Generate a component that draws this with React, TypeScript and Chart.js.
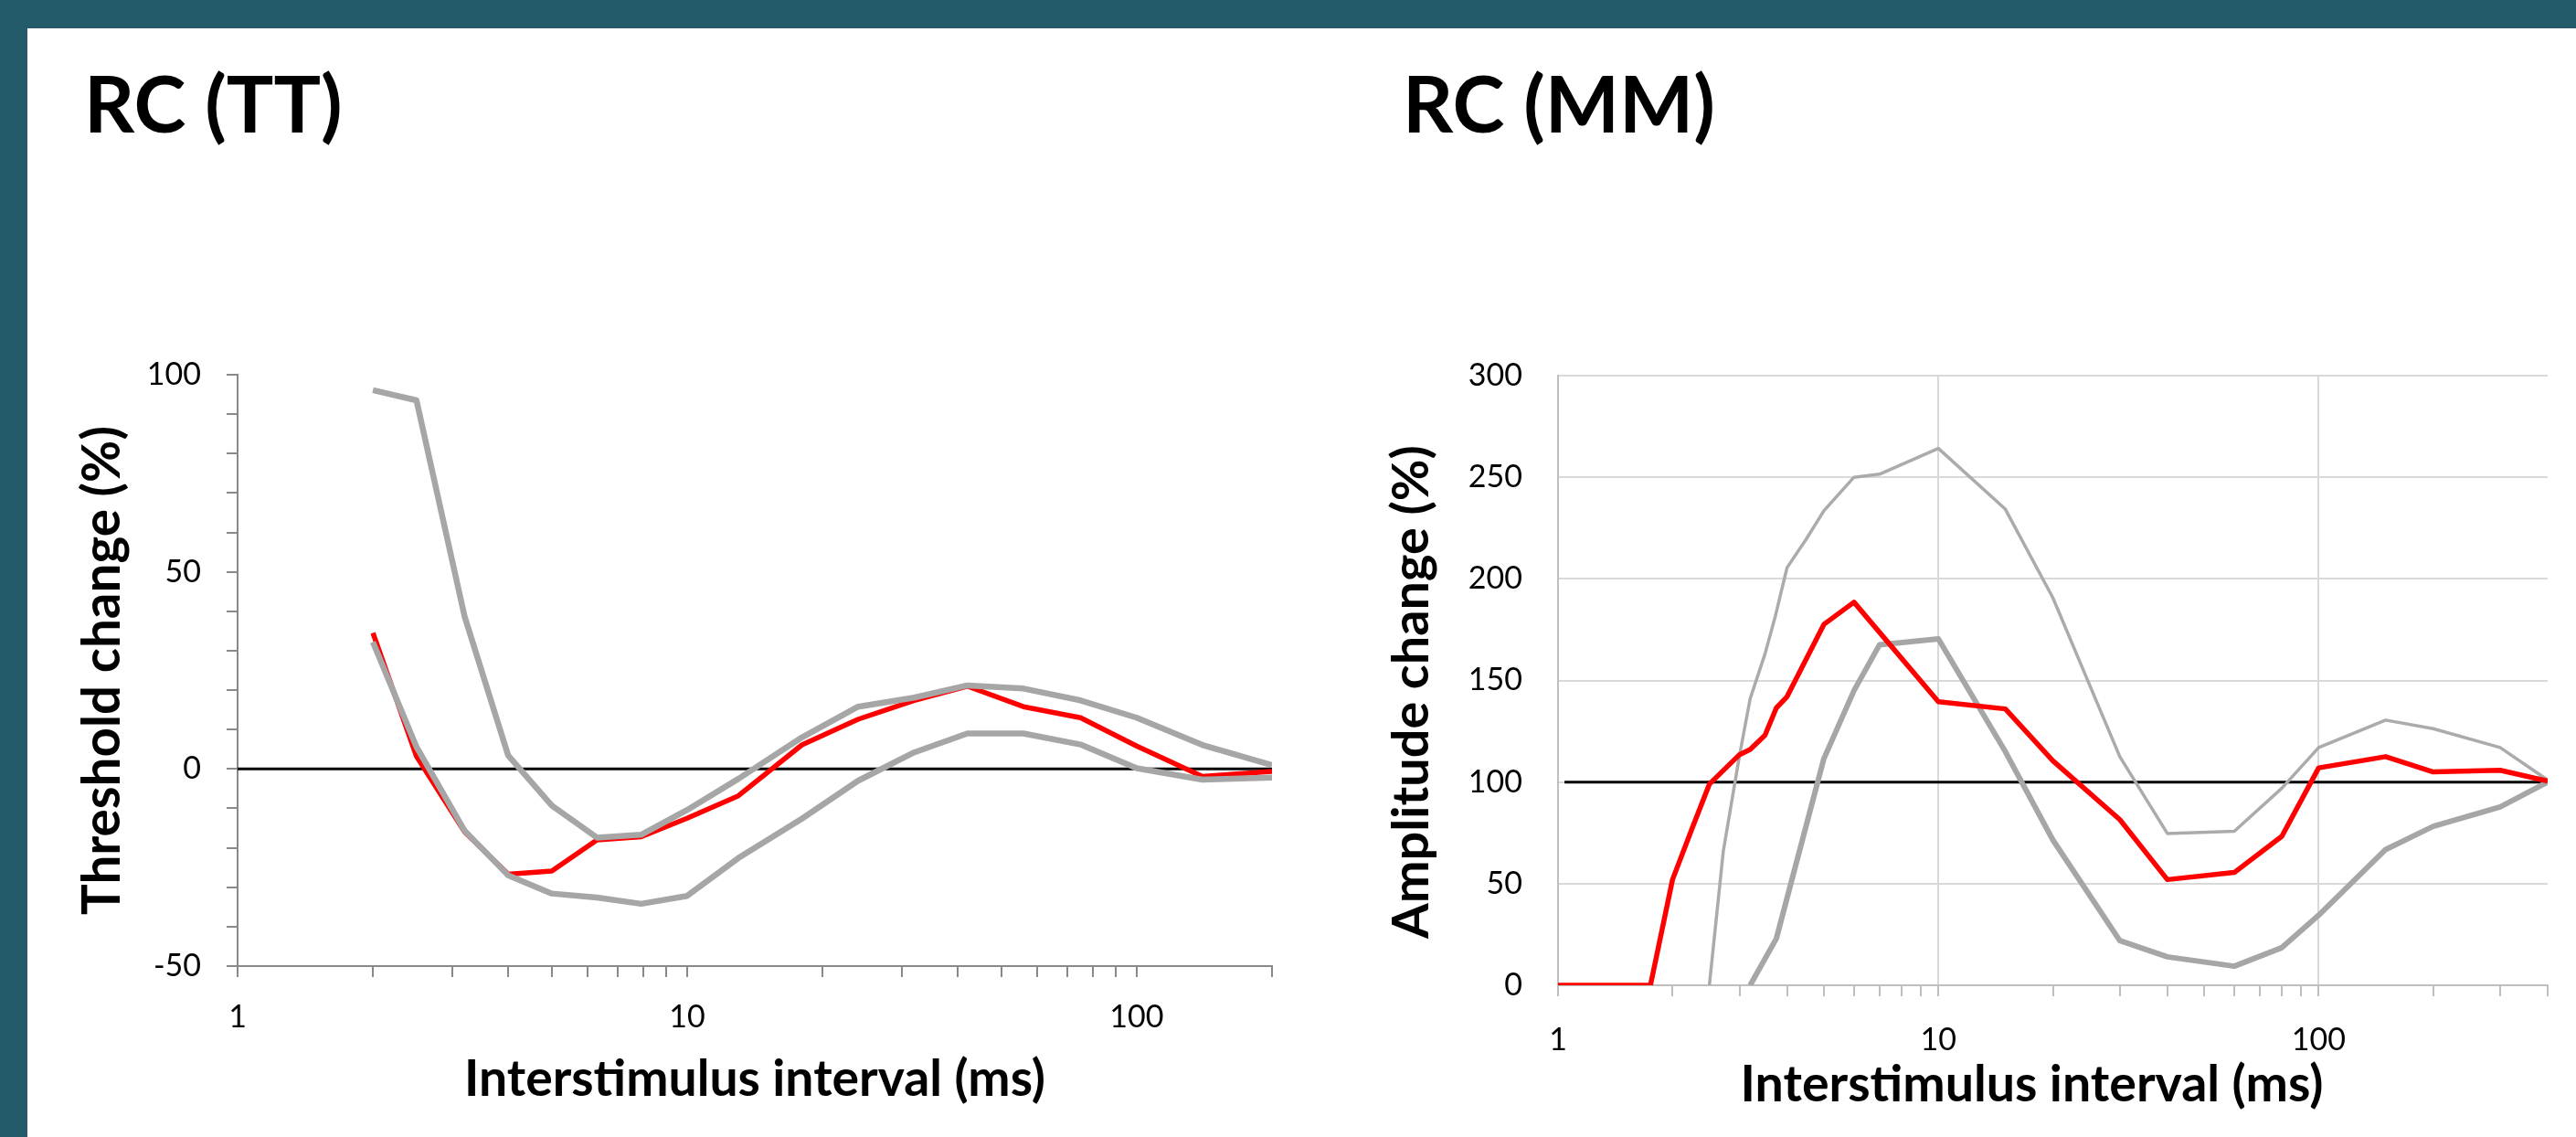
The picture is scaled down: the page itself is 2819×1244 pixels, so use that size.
import React, { useEffect, useRef } from 'react';
import Chart from 'chart.js/auto';

// ---------------- data ----------------
// RC (TT): threshold recovery cycle
const TT_X = [2, 2.5, 3.2, 4, 5, 6.3, 7.9, 10, 13, 18, 24, 32, 42, 56, 75, 100, 140, 200];
const TT_MEAN = [34.5, 3.2, -16, -26.7, -25.9, -18, -17.2, -12.5, -6.8, 6.1, 12.6, 17.4, 21, 15.8, 13, 5.8, -1.9, -0.6];
const TT_UPPER = [96.1, 93.5, 38.6, 3.4, -9.3, -17.4, -16.7, -10.4, -2.5, 8, 15.8, 18.1, 21.2, 20.4, 17.4, 13, 6.1, 1];
const TT_LOWER = [32.2, 5.6, -15.7, -27, -31.6, -32.6, -34.2, -32.2, -22.6, -12.6, -3, 4.2, 9, 9, 6.2, 0.2, -2.7, -2.2];
const TT_REF_X = [1, 200];
const TT_REF_Y = [0, 0];

// RC (MM): amplitude recovery cycle
const MM_X_MEAN = [1, 1.75, 2, 2.25, 2.5, 3, 3.2, 3.5, 3.75, 4, 5, 6, 10, 15, 20, 30, 40, 60, 80, 100, 150, 200, 300, 400];
const MM_MEAN = [0, 0, 52, 77, 99, 113.5, 116, 123, 136.5, 142, 177.6, 188.5, 139.5, 136, 110.5, 81.5, 52, 55.5, 73.3, 107, 112.5, 105, 105.8, 100.5];
const MM_X_UPPER = [2.5, 2.72, 3, 3.2, 3.5, 3.72, 4, 4.5, 5, 6, 7, 10, 15, 20, 30, 40, 60, 80, 100, 150, 200, 300, 400];
const MM_UPPER = [0, 66, 113, 141, 163, 181, 205.5, 219.7, 233.5, 250, 251.5, 264.2, 234.3, 190.7, 112.5, 74.7, 75.8, 97, 117, 130.5, 126.3, 117, 101];
const MM_X_LOWER = [3.2, 3.75, 5, 6, 7, 10, 15, 20, 30, 40, 60, 80, 100, 150, 200, 300, 400];
const MM_LOWER = [0, 23, 111.5, 145, 167.5, 170.5, 115, 71.5, 22, 14, 9.4, 18.5, 34.5, 66.8, 78.2, 87.8, 100];
const MM_REF_X = [1.04, 400];
const MM_REF_Y = [100, 100];

// ticks / labels
const X_TICK_LABELS = [1, 10, 100];
const TT_Y_TICK_LABELS = [-50, 0, 50, 100];
const MM_Y_TICK_LABELS = [0, 50, 100, 150, 200, 250, 300];
const MM_X_GRID = [10, 100];

const TITLE_TT = 'RC (TT)';
const TITLE_MM = 'RC (MM)';
const X_TITLE = 'Interstimulus interval (ms)';
const Y_TITLE_TT = 'Threshold change (%)';
const Y_TITLE_MM = 'Amplitude change (%)';

// ---------------- styles ----------------
const FONT = 'Lato, "Open Sans", sans-serif';
const TEAL = '#245B6A';
const RED = '#FF0000';
const GREY = '#A6A6A6';
const GREY_THIN = '#ABABAB';
const AXIS_L = '#898989';
const AXIS_R = '#BFBFBF';
const GRID_R = '#D9D9D9';

function pts(xs: number[], ys: number[]) {
  return xs.map((x, i) => ({ x, y: ys[i] }));
}

function logTicks(min: number, max: number) {
  const out: number[] = [];
  for (let d = 1; d <= max; d *= 10) {
    for (let m = 1; m < 10; m++) {
      const v = m * d;
      if (v >= min && v <= max) out.push(v);
    }
  }
  return out;
}

function metrics(text: string, weight: string, size: number) {
  const ctx = document.createElement('canvas').getContext('2d')!;
  ctx.font = `${weight} ${size}px ${FONT}`;
  const m = ctx.measureText(text);
  const A = (m as any).fontBoundingBoxAscent ?? size * 0.9;
  const D = (m as any).fontBoundingBoxDescent ?? size * 0.2;
  return { width: m.width, A, D };
}

function fitSize(text: string, weight: string, target: number) {
  return (100 * target) / metrics(text, weight, 100).width;
}

function lineDs(data: { x: number; y: number }[], color: string, width: number, order: number) {
  return {
    data,
    borderColor: color,
    backgroundColor: color,
    borderWidth: width,
    pointRadius: 0,
    pointHoverRadius: 0,
    fill: false,
    tension: 0,
    borderJoinStyle: 'round' as const,
    order,
  };
}

const TITLE_SIZE = 86;

function titleTop(text: string, baseline: number) {
  const mt = metrics(text, 'bold', TITLE_SIZE);
  const half = (TITLE_SIZE - (mt.A + mt.D)) / 2;
  return baseline - half - mt.A;
}

export default function App() {
  const leftRef = useRef<HTMLCanvasElement>(null);
  const rightRef = useRef<HTMLCanvasElement>(null);
  const [tops, setTops] = React.useState<{ tt: number; mm: number } | null>(null);

  useEffect(() => {
    setTops({ tt: titleTop(TITLE_TT, 145), mm: titleTop(TITLE_MM, 145) });
  }, []);

  useEffect(() => {
    const tickFont = { family: FONT, size: 34, weight: 'normal' as const };

    // axis-title sizes fitted to the reference lengths
    const sxL = fitSize(X_TITLE, 'bold', 636);
    const sxR = fitSize(X_TITLE, 'bold', 638);
    const syL = fitSize(Y_TITLE_TT, 'bold', 535);
    const syR = fitSize(Y_TITLE_MM, 'bold', 540);
    const mid = (s: number, t: string) => {
      const m = metrics(t, 'bold', s);
      return (m.A - m.D) / 2;
    };
    // canvases: left at x=40, right at x=1450, both y 380..1230
    const padXL = Math.max(0, 1230 - 0.6 * sxL - (1203 - mid(sxL, X_TITLE)));
    const padYL = Math.max(0, 135 - mid(syL, Y_TITLE_TT) - 40 - 0.6 * syL);

    const common = {
      responsive: false,
      animation: false as const,
      devicePixelRatio: 1,
      events: [] as any[],
      plugins: { legend: { display: false }, tooltip: { enabled: false }, title: { display: false } },
    };

    const fixY = (w: number) => (s: any) => {
      s.width = w;
      s.paddingTop = 0;
      s.paddingBottom = 0;
    };
    const fixX = (h: number) => (s: any) => {
      s.height = h;
      s.paddingLeft = 0;
      s.paddingRight = 0;
    };

    const left = new Chart(leftRef.current!, {
      type: 'line',
      data: {
        datasets: [
          lineDs(pts(TT_REF_X, TT_REF_Y), '#000000', 3, 4),
          lineDs(pts(TT_X, TT_MEAN), RED, 5.5, 3),
          lineDs(pts(TT_X, TT_UPPER), GREY, 6.5, 2),
          lineDs(pts(TT_X, TT_LOWER), GREY, 6.5, 1),
        ],
      },
      options: {
        ...common,
        layout: { padding: { left: 0, right: 48, top: 30, bottom: 0 } },
        scales: {
          x: {
            type: 'logarithmic',
            min: 1,
            max: 200,
            afterBuildTicks: (s: any) => {
              s.ticks = logTicks(1, 200).map((v) => ({ value: v }));
            },
            afterFit: fixX(173),
            ticks: {
              autoSkip: false,
              maxRotation: 0,
              minRotation: 0,
              padding: 23.6,
              color: '#000',
              font: tickFont,
              callback: (v: any) => (X_TICK_LABELS.includes(Number(v)) ? String(v) : ''),
            },
            grid: { display: true, drawOnChartArea: false, drawTicks: true, tickLength: 12, color: AXIS_L, lineWidth: 2, tickWidth: 2 },
            border: { display: true, color: AXIS_L, width: 2 },
            title: {
              display: true,
              text: X_TITLE,
              color: '#000',
              font: { family: FONT, weight: 'bold', size: sxL },
              padding: { top: 0, bottom: padXL },
            },
          },
          y: {
            type: 'linear',
            min: -50,
            max: 100,
            afterFit: fixY(220),
            ticks: {
              stepSize: 10,
              autoSkip: false,
              padding: 28,
              color: '#000',
              font: tickFont,
              callback: (v: any) => (TT_Y_TICK_LABELS.includes(Number(v)) ? String(v) : ''),
            },
            grid: { display: true, drawOnChartArea: false, drawTicks: true, tickLength: 12, color: AXIS_L, lineWidth: 2, tickWidth: 2 },
            border: { display: true, color: AXIS_L, width: 2 },
            title: {
              display: true,
              text: Y_TITLE_TT,
              color: '#000',
              font: { family: FONT, weight: 'bold', size: syL },
              padding: { top: padYL, bottom: 0 },
            },
          },
        },
      } as any,
    });

    // right chart axis titles, placed where the reference has them (slightly off-centre)
    const rightTitles = {
      id: 'rightTitles',
      afterDraw(chart: any) {
        const ctx = chart.ctx as CanvasRenderingContext2D;
        const ca = chart.chartArea;
        ctx.save();
        ctx.fillStyle = '#000';
        ctx.textBaseline = 'alphabetic';
        ctx.textAlign = 'center';
        ctx.font = `bold ${sxR}px ${FONT}`;
        ctx.fillText(X_TITLE, (ca.left + ca.right) / 2 - 23, 1205 - 380);
        ctx.translate(1563 - 1450, 757 - 380);
        ctx.rotate(-Math.PI / 2);
        ctx.font = `bold ${syR}px ${FONT}`;
        ctx.fillText(Y_TITLE_MM, 0, 0);
        ctx.restore();
      },
    };

    const right = new Chart(rightRef.current!, {
      type: 'line',
      data: {
        datasets: [
          lineDs(pts(MM_REF_X, MM_REF_Y), '#000000', 3, 4),
          lineDs(pts(MM_X_UPPER, MM_UPPER), GREY_THIN, 3.5, 3),
          lineDs(pts(MM_X_LOWER, MM_LOWER), GREY, 6, 2),
          lineDs(pts(MM_X_MEAN, MM_MEAN), RED, 5.5, 1),
        ],
      },
      plugins: [rightTitles],
      options: {
        ...common,
        layout: { padding: { left: 0, right: 31, top: 31, bottom: 0 } },
        scales: {
          x: {
            type: 'logarithmic',
            min: 1,
            max: 400,
            afterBuildTicks: (s: any) => {
              s.ticks = logTicks(1, 400).map((v) => ({ value: v }));
            },
            afterFit: fixX(152),
            ticks: {
              autoSkip: false,
              maxRotation: 0,
              minRotation: 0,
              padding: 27.6,
              color: '#000',
              font: tickFont,
              callback: (v: any) => (X_TICK_LABELS.includes(Number(v)) ? String(v) : ''),
            },
            grid: {
              display: true,
              drawOnChartArea: true,
              drawTicks: true,
              tickLength: 12,
              lineWidth: 2,
              tickWidth: 2,
              tickColor: AXIS_R,
              color: (ctx: any) => (ctx.tick && MM_X_GRID.includes(ctx.tick.value) ? GRID_R : 'rgba(0,0,0,0)'),
            },
            border: { display: true, color: AXIS_R, width: 2 },
            title: { display: false },
          },
          y: {
            type: 'linear',
            min: 0,
            max: 300,
            afterFit: fixY(255),
            ticks: {
              stepSize: 50,
              autoSkip: false,
              padding: 39,
              color: '#000',
              font: tickFont,
              callback: (v: any) => (MM_Y_TICK_LABELS.includes(Number(v)) ? String(v) : ''),
            },
            grid: { display: true, drawOnChartArea: true, drawTicks: false, color: GRID_R, lineWidth: 2 },
            border: { display: true, color: AXIS_R, width: 2 },
            title: { display: false },
          },
        },
      } as any,
    });

    return () => {
      left.destroy();
      right.destroy();
    };
  }, []);

  const titleStyle = (left: number, top: number): React.CSSProperties => ({
    position: 'absolute',
    left,
    top,
    margin: 0,
    fontFamily: FONT,
    fontWeight: 700,
    fontSize: TITLE_SIZE,
    lineHeight: `${TITLE_SIZE}px`,
    color: '#000',
    whiteSpace: 'nowrap',
  });

  return (
    <div
      style={{
        position: 'fixed',
        left: 0,
        top: 0,
        width: 2819,
        height: 1244,
        background: '#ffffff',
        overflow: 'hidden',
      }}
    >
      <div style={{ position: 'absolute', left: 0, top: 0, width: 2819, height: 31, background: TEAL }} />
      <div style={{ position: 'absolute', left: 0, top: 0, width: 30, height: 1244, background: TEAL }} />
      <div style={titleStyle(92, tops ? tops.tt : 70)}>{TITLE_TT}</div>
      <div style={titleStyle(1535, tops ? tops.mm : 70)}>{TITLE_MM}</div>
      <div style={{ position: 'absolute', left: 40, top: 380, width: 1400, height: 850 }}>
        <canvas ref={leftRef} width={1400} height={850} style={{ width: 1400, height: 850, display: 'block' }} />
      </div>
      <div style={{ position: 'absolute', left: 1450, top: 380, width: 1369, height: 850 }}>
        <canvas ref={rightRef} width={1369} height={850} style={{ width: 1369, height: 850, display: 'block' }} />
      </div>
    </div>
  );
}
